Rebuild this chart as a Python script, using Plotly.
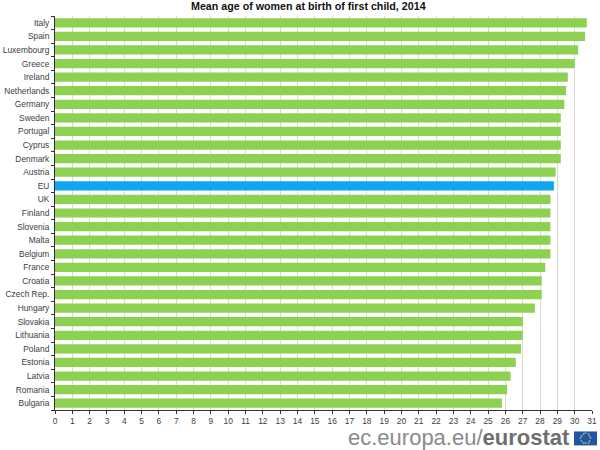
import math
import plotly.graph_objects as go

countries = ["Italy", "Spain", "Luxembourg", "Greece", "Ireland", "Netherlands", "Germany", "Sweden",
             "Portugal", "Cyprus", "Denmark", "Austria", "EU", "UK", "Finland", "Slovenia", "Malta",
             "Belgium", "France", "Croatia", "Czech Rep.", "Hungary", "Slovakia", "Lithuania", "Poland",
             "Estonia", "Latvia", "Romania", "Bulgaria"]
ages = [30.7, 30.6, 30.2, 30.0, 29.6, 29.5, 29.4, 29.2, 29.2, 29.2, 29.2, 28.9, 28.8, 28.6, 28.6,
        28.6, 28.6, 28.6, 28.3, 28.1, 28.1, 27.7, 27.0, 27.0, 26.9, 26.6, 26.3, 26.1, 25.8]
x_ticks = list(range(0, 32))
GREEN, BLUE = "#8cd14f", "#0fa5f0"
bar_colors = [BLUE if c == "EU" else GREEN for c in countries]

W, H = 600, 450
L, R, T, B = 54.5, 592, 15.6, 410.5
px = lambda v: (v - L) / (R - L)
py = lambda v: (B - v) / (B - T)
fig = go.Figure(go.Bar(x=ages, y=countries, orientation="h", marker=dict(color=bar_colors, line_width=0),
                       width=0.68))
fig.update_layout(
    width=W, height=H, autosize=False, paper_bgcolor="white", plot_bgcolor="white", showlegend=False,
    margin=dict(l=L, r=W - R, t=T, b=H - B, pad=0, autoexpand=False),
    font=dict(family="Liberation Sans, Arial, sans-serif", size=8.4, color="#404040"),
    xaxis=dict(range=[0, 31], tickvals=x_ticks, ticktext=[str(v) for v in x_ticks], ticks="outside",
               ticklen=3, tickcolor="#333333", showline=True, linecolor="#333333", linewidth=1,
               showgrid=True, gridcolor="#d9d9d9", gridwidth=1, zeroline=False, tickangle=0, automargin=False),
    yaxis=dict(categoryorder="array", categoryarray=countries[::-1], tickson="boundaries", ticks="outside",
               ticklen=3, tickcolor="#333333", showline=True, linecolor="#333333", linewidth=1,
               showgrid=False, zeroline=False, range=[-0.5, len(countries) - 0.5], automargin=False,
               ticklabelstandoff=3),
)
fig.add_annotation(xref="paper", yref="paper", x=px(308), y=py(6), xanchor="center", yanchor="middle",
                   showarrow=False, text="<b>Mean age of women at birth of first child, 2014</b>",
                   font=dict(size=10.7, color="#111111"))
fig.add_annotation(xref="paper", yref="paper", xanchor="right", yanchor="middle", x=px(571.5),
                   y=py(438), showarrow=False,
                   text='<span style="color:#8a8a8a">ec.europa.eu/</span><b style="color:#6e6e6e">eurostat</b>',
                   font=dict(size=22))
# EU flag of the logo, in pixels of the page
fx0, fx1, fy0, fy1 = 574, 597, 432, 446
fig.add_shape(type="rect", xref="paper", yref="paper", x0=px(fx0), x1=px(fx1), y0=py(fy1), y1=py(fy0),
              fillcolor="#1f55a8", line_width=0)
for i in range(12):
    a = math.radians(30 * i)
    fig.add_annotation(xref="paper", yref="paper", x=px((fx0 + fx1) / 2 + 5 * math.cos(a)),
                       y=py((fy0 + fy1) / 2 + 5 * math.sin(a)), text="★", showarrow=False,
                       font=dict(size=3, color="#e8d64a"), xanchor="center", yanchor="middle")
fig.write_html("out.html", config={"displayModeBar": False},
               post_script="document.body.style.margin='0';")
